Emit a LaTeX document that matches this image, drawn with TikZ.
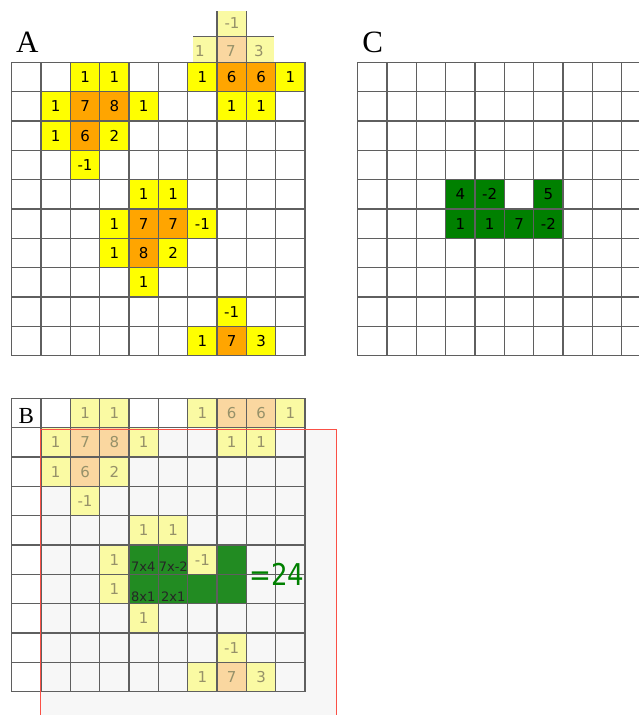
\documentclass[tikz,border=0pt]{standalone}
\usepackage{fontspec}
\newfontfamily\dejavu{DejaVu Sans}
\newfontfamily\eqfont[FakeStretch=0.87]{DejaVu Sans}
\newfontfamily\labfont{Liberation Serif}
\definecolor{gridgray}{RGB}{95,95,95}
\definecolor{yel}{RGB}{255,255,0}
\definecolor{ora}{RGB}{255,165,0}
\definecolor{fyel}{RGB}{250,250,163}
\definecolor{fora}{RGB}{250,215,160}
\definecolor{ftext}{RGB}{150,145,105}
\definecolor{gC}{RGB}{0,128,0}
\definecolor{gB}{RGB}{34,139,34}
\definecolor{bgray}{RGB}{247,247,247}
\definecolor{redline}{RGB}{250,80,70}
\tikzset{
  gridline/.style={line width=1.1pt, draw=gridgray, line cap=rect},
  num/.style={font=\dejavu\fontsize{15}{15}\selectfont, inner sep=0pt},
  fnum/.style={num, text=ftext},
  gnum/.style={font=\dejavu\fontsize{13}{13}\selectfont, inner sep=0pt, anchor=base, text=black!85},
  lab/.style={font=\labfont\fontsize{31}{31}\selectfont, inner sep=0pt, anchor=base},
}
\newcommand\mkgrid[2]{%
  \foreach \i in {0,...,10} {
    \draw[gridline] (#1+\i*29.333,#2) -- (#1+\i*29.333,#2+293.33);
    \draw[gridline] (#1,#2+\i*29.333) -- (#1+293.33,#2+\i*29.333);
  }}
\begin{document}
\begin{tikzpicture}[x=1pt,y=-1pt]
\useasboundingbox (0,0) rectangle (639,715);
\fill[white] (0,0) rectangle (639,715);

% ---------- A ----------
\node[lab] (labA) at (27.2,52.3) {A};
% shifted kernel above A
\fill[fyel] (193.3,36.7) rectangle (217,62.3);
\fill[fora] (217,36.7) rectangle (246.3,62.3);
\fill[fyel] (246.3,36.7) rectangle (274.3,62.3);
\fill[fyel] (217,11) rectangle (246.3,36.7);
\draw[gridline,line cap=butt] (193.3,36.7) -- (274.3,36.7);
\draw[gridline,line cap=butt] (217,11) -- (217,62.3);
\draw[gridline,line cap=butt] (246.3,11) -- (246.3,62.3);
\node[fnum] (k1) at (200,51) {1};
\node[fnum] (k7) at (231,51) {7};
\node[fnum] (k3) at (259,51) {3};
\node[fnum] (km) at (232,23.3) {-1};

\foreach \r/\c/\v in {0/2/1,0/3/1,0/6/1,0/9/1,1/1/1,1/4/1,1/7/1,1/8/1,2/1/1,2/3/2,3/2/-1,4/4/1,4/5/1,5/3/1,5/6/-1,6/3/1,6/5/2,7/4/1,8/7/-1,9/6/1,9/8/3} {
  \fill[yel] (11.7+\c*29.333,62.3+\r*29.333) rectangle ++(29.333,29.333);
  \node[num] (a\r-\c) at (11.7+\c*29.333+14.667,62.3+\r*29.333+14.667) {\v};
}
\foreach \r/\c/\v in {0/7/6,0/8/6,1/2/7,1/3/8,2/2/6,5/4/7,5/5/7,6/4/8,9/7/7} {
  \fill[ora] (11.7+\c*29.333,62.3+\r*29.333) rectangle ++(29.333,29.333);
  \node[num] (a\r-\c) at (11.7+\c*29.333+14.667,62.3+\r*29.333+14.667) {\v};
}
\mkgrid{11.7}{62.3}

% ---------- C ----------
\node[lab] (labC) at (372.8,52.3) {C};
\foreach \r/\c/\v in {4/3/4,4/4/-2,4/6/5,5/3/1,5/4/1,5/5/7,5/6/-2} {
  \fill[gC] (357.7+\c*29.333,62.3+\r*29.333) rectangle ++(29.333,29.333);
  \node[num] (c\r-\c) at (357.7+\c*29.333+14.667,62.3+\r*29.333+14.667) {\v};
}
\mkgrid{357.7}{62.3}

% ---------- B ----------
\fill[bgray] (40.3,429.3) rectangle (336.7,720);
\foreach \r/\c/\v in {0/2/1,0/3/1,0/6/1,0/9/1,1/1/1,1/4/1,1/7/1,1/8/1,2/1/1,2/3/2,3/2/-1,4/4/1,4/5/1,5/3/1,5/6/-1,6/3/1,7/4/1,8/7/-1,9/6/1,9/8/3} {
  \fill[fyel] (11.7+\c*29.333,398.3+\r*29.333) rectangle ++(29.333,29.333);
  \node[fnum] (b\r-\c) at (11.7+\c*29.333+14.667,398.3+\r*29.333+14.667) {\v};
}
\foreach \r/\c/\v in {0/7/6,0/8/6,1/2/7,1/3/8,2/2/6,9/7/7} {
  \fill[fora] (11.7+\c*29.333,398.3+\r*29.333) rectangle ++(29.333,29.333);
  \node[fnum] (b\r-\c) at (11.7+\c*29.333+14.667,398.3+\r*29.333+14.667) {\v};
}
\foreach \r/\c in {5/4,5/5,5/7,6/4,6/5,6/6,6/7} {
  \fill[gB] (11.7+\c*29.333,398.3+\r*29.333) rectangle ++(29.333,29.333);
}
\mkgrid{11.7}{398.3}
\draw[redline, line width=1.2pt] (40.3,720) -- (40.3,429.3) -- (336.7,429.3) -- (336.7,720);
\node[gnum] (g1) at (143.2,571) {7x4};
\node[gnum] (g2) at (173.3,571) {7x-2};
\node[gnum] (g3) at (143.2,601) {8x1};
\node[gnum] (g4) at (173.3,601) {2x1};
\node[font=\eqfont\fontsize{30}{30}\selectfont, inner sep=0pt, anchor=base, text=gC] (eq) at (276.7,585.7) {=24};
\node[font=\labfont\fontsize{23}{23}\selectfont, inner sep=0pt, anchor=base] (labB) at (26.2,423.3) {B};
\end{tikzpicture}
\end{document}
